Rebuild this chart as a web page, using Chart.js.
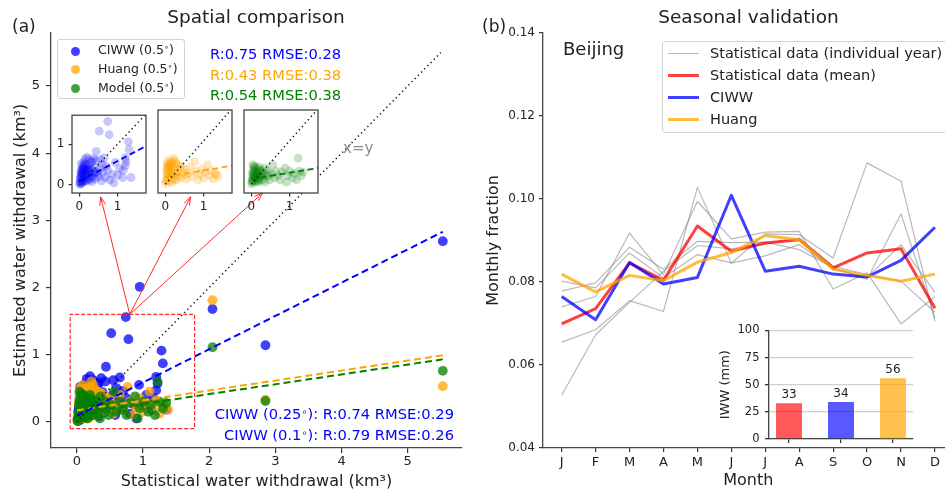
<!DOCTYPE html>
<html>
<head>
<meta charset="utf-8">
<script src="https://cdn.jsdelivr.net/npm/chart.js@4.4.1/dist/chart.umd.min.js"></script>
<style>
  html, body { margin: 0; padding: 0; background: #fff; overflow: hidden; width: 945px; height: 490px; }
  canvas { position: absolute; }
  .t { position: absolute; white-space: nowrap; line-height: 1; font-family: "DejaVu Sans", sans-serif; color: #222; }
  .t sup { font-size: 0.65em; vertical-align: 0.45em; line-height: 0; }
  .leg { position: absolute; background: rgba(255,255,255,0.85); border: 1px solid #d3d3d3; border-radius: 3px; box-sizing: border-box; }
  .dot { position: absolute; width: 9px; height: 9px; border-radius: 50%; }
  .ln { position: absolute; width: 31px; }
</style>
</head>
<body>
<canvas id="cA" width="472" height="490" style="left:0;top:0"></canvas>
<canvas id="in1" width="100" height="112" style="left:52px;top:104px"></canvas>
<canvas id="in2" width="100" height="112" style="left:140px;top:104px"></canvas>
<canvas id="in3" width="100" height="112" style="left:226px;top:104px"></canvas>
<canvas id="cB" width="480" height="490" style="left:480px;top:0"></canvas>
<canvas id="cC" width="210" height="135" style="left:710px;top:318px"></canvas>

<div class="leg" style="left:57px;top:39px;width:128px;height:60px">
  <div class="dot" style="left:13px;top:7px;background:rgba(0,0,255,0.75)"></div>
  <div class="dot" style="left:13px;top:25px;background:rgba(255,165,0,0.75)"></div>
  <div class="dot" style="left:13px;top:44px;background:rgba(0,128,0,0.75)"></div>
</div>
<div class="leg" style="left:662px;top:41px;width:300px;height:92px">
  <div class="ln" style="left:5px;top:11px;height:1.2px;background:rgba(128,128,128,0.55)"></div>
  <div class="ln" style="left:5px;top:32px;height:3px;background:rgba(255,0,0,0.75)"></div>
  <div class="ln" style="left:5px;top:54px;height:3px;background:rgba(0,0,255,0.75)"></div>
  <div class="ln" style="left:5px;top:76px;height:3px;background:rgba(255,165,0,0.75)"></div>
</div>

<script>
// ---- panel (a): spatial comparison, km3 ----
const ciwwX = [0.02,0.03,0.05,0.04,0.06,0.08,0.09,0.10,0.07,0.11, 0.12,0.13,0.15,0.17,0.19,0.21,0.23,0.26,0.28,0.31,
  0.33,0.36,0.39,0.42,0.45,0.50,0.54,0.58,0.62,0.68, 0.74,0.80,0.86,0.90,1.00,1.05,1.13,1.15,1.20,1.35,
  0.05,0.12,0.15,0.25,0.37,0.55,0.65,0.94,1.20,1.22, 0.44,0.52,0.78,0.74,1.28,1.30,0.95,2.05,2.85,5.53,
  0.01,0.02,0.04,0.06,0.08,0.10,0.14,0.18,0.20,0.24, 0.27,0.30,0.35,0.40,0.48,0.60,0.70,0.33,0.43,0.20,
  0.03,0.05,0.07,0.09,0.11,0.13,0.16,0.19,0.22,0.25, 0.29,0.32,0.16,0.09,0.04];
const ciwwY = [0.01,0.06,0.03,0.12,0.18,0.06,0.24,0.14,0.32,0.38, 0.08,0.45,0.28,0.18,0.40,0.10,0.30,0.48,0.20,0.36,
  0.08,0.26,0.44,0.14,0.32,0.20,0.40,0.10,0.30,0.18, 0.36,0.12,0.26,0.05,0.24,0.40,0.18,0.36,0.47,0.18,
  0.52,0.56,0.64,0.62,0.65,0.62,0.66,0.55,0.67,0.57, 0.82,1.32,1.23,1.56,1.06,0.87,2.01,1.68,1.14,2.69,
  0.04,0.15,0.22,0.28,0.35,0.42,0.50,0.30,0.22,0.38, 0.12,0.30,0.18,0.30,0.28,0.50,0.46,0.58,0.60,0.68,
  0.20,0.30,0.40,0.10,0.28,0.20,0.10,0.50,0.35,0.15, 0.40,0.55,0.38,0.48,0.35];
const huangX = [0.01,0.03,0.05,0.04,0.06,0.08,0.05,0.10,0.12,0.14, 0.16,0.18,0.20,0.22,0.24,0.26,0.28,0.30,0.32,0.35,
  0.38,0.40,0.45,0.50,0.55,0.60,0.65,0.70,0.77,0.80, 0.85,0.90,0.95,1.00,1.05,1.10,1.15,1.20,1.25,1.30,
  1.33,1.38,0.02,0.07,0.11,0.15,0.19,0.09,0.13,0.25, 2.05,2.85,5.53,
  0.03,0.06,0.09,0.12,0.15,0.18,0.21,0.24,0.04,0.08, 0.17,0.27,0.33,0.42,0.52];
const huangY = [0.02,0.08,0.15,0.25,0.35,0.45,0.50,0.05,0.20,0.30, 0.42,0.12,0.52,0.60,0.25,0.38,0.48,0.10,0.30,0.20,
  0.42,0.15,0.28,0.35,0.12,0.25,0.40,0.18,0.52,0.30, 0.10,0.22,0.35,0.15,0.28,0.45,0.20,0.32,0.12,0.25,
  0.23,0.18,0.10,0.20,0.30,0.15,0.25,0.40,0.48,0.55, 1.81,0.33,0.53,
  0.30,0.40,0.55,0.45,0.50,0.35,0.42,0.10,0.40,0.25, 0.05,0.20,0.45,0.38,0.22];
const modelX = [0.01,0.02,0.03,0.05,0.04,0.06,0.07,0.09,0.10,0.12, 0.14,0.16,0.18,0.20,0.22,0.25,0.28,0.30,0.33,0.36,
  0.40,0.44,0.48,0.52,0.56,0.60,0.65,0.70,0.75,0.80, 0.88,0.92,0.95,1.00,1.08,1.12,1.18,1.22,1.25,1.30,
  1.35,0.02,0.04,0.08,0.11,0.13,0.17,0.06,0.24, 2.05,2.85,5.53,
  0.03,0.05,0.08,0.10,0.12,0.15,0.19,0.23,0.27,0.31, 0.04,0.14,0.21,0.35,0.45];
const modelY = [0.01,0.05,0.12,0.20,0.30,0.38,0.42,0.08,0.25,0.15, 0.35,0.05,0.28,0.40,0.18,0.10,0.32,0.22,0.12,0.38,
  0.20,0.30,0.10,0.25,0.45,0.15,0.30,0.20,0.10,0.28, 0.38,0.05,0.20,0.30,0.15,0.25,0.10,0.60,0.30,0.20,
  0.28,0.08,0.16,0.18,0.06,0.30,0.12,0.24,0.20, 1.11,0.31,0.76,
  0.25,0.10,0.30,0.40,0.22,0.15,0.08,0.30,0.18,0.28, 0.45,0.25,0.35,0.05,0.20];
const fitX = [0, 5.53];
const ciwwFit = [0.09, 2.83];
const huangFit = [0.17, 0.99];
const modelFit = [0.12, 0.93];
const oneToOne = [0, 5.5];
const zoomBoxX = [-0.1, 1.78, 1.78, -0.1, -0.1];
const zoomBoxY = [-0.1, -0.1, 1.6, 1.6, -0.1];
const arrowFrom = [0.8, 1.6];
const arrowToX = [0.36, 1.72, 2.81];
const arrowToY = [3.35, 3.35, 3.41];
const ticksA = [0, 1, 2, 3, 4, 5];
const ticksInset = [0, 1];

// ---- panel (b): seasonal validation, Beijing ----
const months = ['J','F','M','A','M','J','J','A','S','O','N','D'];
const yearA = [0.0527,0.0673,0.0751,0.0826,0.0888,0.0880,0.0892,0.0906,0.0838,0.0818,0.0802,0.0727];
const yearB = [0.0655,0.0685,0.0755,0.0729,0.1028,0.0845,0.0916,0.0914,0.0858,0.1087,0.1043,0.0705];
const yearC = [0.0740,0.0765,0.0918,0.0818,0.0994,0.0904,0.0920,0.0922,0.0783,0.0822,0.0699,0.0765];
const yearD = [0.0778,0.0798,0.0884,0.0831,0.0898,0.0895,0.0896,0.0878,0.0835,0.0806,0.0964,0.0713];
const yearE = [0.0802,0.0786,0.0870,0.0810,0.0866,0.0846,0.0863,0.0890,0.0831,0.0811,0.0890,0.0775];
const meanFrac  = [0.0699,0.0736,0.0846,0.0804,0.0935,0.0874,0.0894,0.0902,0.0834,0.0870,0.0880,0.0737];
const ciwwFrac  = [0.0765,0.0709,0.0847,0.0795,0.0811,0.1009,0.0826,0.0838,0.0819,0.0812,0.0852,0.0932];
const huangFrac = [0.0819,0.0776,0.0816,0.0803,0.0848,0.0871,0.0912,0.0902,0.0831,0.0816,0.0802,0.0819];
const ticksFrac = [0.04, 0.06, 0.08, 0.10, 0.12, 0.14];
const iwwValues = [33, 34, 56];
const iwwColors = ['rgba(255,0,0,0.65)', 'rgba(0,0,255,0.65)', 'rgba(255,165,0,0.7)'];
const ticksIww = [0, 25, 50, 75, 100];

Chart.defaults.font.family = '"DejaVu Sans", sans-serif';
Chart.defaults.color = '#222';

const pts = (xs, ys) => xs.map((x, i) => ({ x: x, y: ys[i] }));

function axis(o) {
  return {
    type: 'linear', min: o.min, max: o.max, offset: false,
    afterBuildTicks: s => { s.ticks = o.at.map(v => ({ value: v })); },
    afterFit: s => { if (s.isHorizontal()) s.height = o.size; else s.width = o.size; },
    grid: { display: o.marks !== false, drawOnChartArea: !!o.gridColor, color: o.gridColor || '#333',
            tickColor: '#333', lineWidth: o.gridColor ? 1.3 : 1.2, drawTicks: true, tickLength: o.tick || 5, offset: false },
    border: { display: o.border !== false, color: '#444', width: 1.3 },
    ticks: { display: o.labels !== false, padding: o.pad || 3, font: { size: o.font || 13 }, color: '#222',
             maxRotation: 0, autoSkip: false, callback: o.fmt || (v => String(v)) },
    title: o.title ? { display: true, text: o.title, color: '#222', font: { size: o.tsize || 16, lineHeight: 1 },
                       padding: o.tpad || 0 } : { display: false }
  };
}

const base = { responsive: false, animation: false, events: [],
  plugins: { legend: { display: false }, tooltip: { enabled: false } } };

const arrows = {
  id: 'arrows',
  afterDatasetsDraw(chart) {
    const ctx = chart.ctx, sx = chart.scales.x, sy = chart.scales.y;
    const x0 = sx.getPixelForValue(arrowFrom[0]), y0 = sy.getPixelForValue(arrowFrom[1]);
    ctx.save();
    ctx.strokeStyle = '#ff2a2a';
    ctx.lineWidth = 1;
    arrowToX.forEach((tx, i) => {
      const x1 = sx.getPixelForValue(tx), y1 = sy.getPixelForValue(arrowToY[i]);
      const a = Math.atan2(y1 - y0, x1 - x0);
      ctx.beginPath();
      ctx.moveTo(x0, y0); ctx.lineTo(x1, y1);
      ctx.moveTo(x1 - 9 * Math.cos(a - 0.33), y1 - 9 * Math.sin(a - 0.33));
      ctx.lineTo(x1, y1);
      ctx.lineTo(x1 - 9 * Math.cos(a + 0.33), y1 - 9 * Math.sin(a + 0.33));
      ctx.stroke();
    });
    ctx.restore();
  }
};

const whiteArea = {
  id: 'whiteArea',
  beforeDraw(c) {
    const a = c.chartArea;
    c.ctx.save(); c.ctx.fillStyle = '#fff'; c.ctx.fillRect(a.left, a.top, a.width, a.height); c.ctx.restore();
  }
};
const frame = {
  id: 'frame',
  afterDraw(c) {
    const a = c.chartArea;
    c.ctx.save(); c.ctx.strokeStyle = '#444'; c.ctx.lineWidth = 1.3;
    c.ctx.strokeRect(a.left, a.top, a.width, a.height); c.ctx.restore();
  }
};

function lineDs(xs, ys, color, dash, width, order) {
  return { data: pts(xs, ys), showLine: true, borderColor: color, borderWidth: width, borderDash: dash,
           pointRadius: 0, order: order };
}
function dotDs(xs, ys, color, r, order) {
  return { data: pts(xs, ys), pointRadius: r, pointBackgroundColor: color, pointBorderColor: color,
           pointBorderWidth: 0, order: order };
}

// main scatter (a)
new Chart(document.getElementById('cA'), {
  type: 'scatter',
  data: { datasets: [
    lineDs(fitX, ciwwFit, 'blue', [7, 4], 2, 1),
    lineDs(fitX, huangFit, 'orange', [7, 4], 2, 1),
    lineDs(fitX, modelFit, 'green', [7, 4], 2, 1),
    lineDs(oneToOne, oneToOne, '#111', [1.3, 3.2], 1.5, 1),
    lineDs(zoomBoxX, zoomBoxY, '#ff2a2a', [4, 2], 1.2, 1),
    dotDs(modelX, modelY, 'rgba(0,128,0,0.75)', 4.9, 2),
    dotDs(huangX, huangY, 'rgba(255,165,0,0.75)', 4.9, 3),
    dotDs(ciwwX, ciwwY, 'rgba(0,0,255,0.75)', 4.9, 4)
  ]},
  options: Object.assign({}, base, {
    layout: { padding: { left: 0, top: 33, right: 10, bottom: 0 } },
    scales: {
      x: axis({ min: -0.39, max: 5.82, at: ticksA, size: 42, pad: 1, title: 'Statistical water withdrawal (km³)', tpad: { top: 0, bottom: 0 } }),
      y: axis({ min: -0.39, max: 5.79, at: ticksA, size: 51, pad: 6, title: 'Estimated water withdrawal (km³)', tpad: { top: 13, bottom: 0 } })
    }
  }),
  plugins: [arrows]
});

// zoomed insets
function inset(id, xs, ys, fit, dotColor, fitColor, showY, yW, padR) {
  new Chart(document.getElementById(id), {
    type: 'scatter',
    data: { datasets: [
      lineDs(oneToOne, oneToOne, '#111', [1.3, 3.2], 1.5, 1),
      lineDs(fitX, fit, fitColor, [6, 3.5], 1.8, 1),
      dotDs(xs, ys, dotColor, 4.4, 2)
    ]},
    options: Object.assign({}, base, {
      layout: { padding: { left: 0, top: 6, right: padR, bottom: 0 } },
      scales: {
        x: axis({ min: -0.19, max: 1.74, at: ticksInset, size: 23, tick: 3.5, pad: 3, font: 12, border: false }),
        y: axis({ min: -0.2, max: 1.71, at: ticksInset, size: yW, tick: 3.5, pad: 4, font: 12, border: false,
                  labels: showY, marks: showY })
      }
    }),
    plugins: [whiteArea, frame]
  });
}
inset('in1', ciwwX, ciwwY, ciwwFit, 'rgba(0,0,255,0.22)', 'blue', true, 20, 6);
inset('in2', huangX, huangY, huangFit, 'rgba(255,165,0,0.25)', 'orange', false, 18, 8);
inset('in3', modelX, modelY, modelFit, 'rgba(0,128,0,0.22)', 'green', false, 18, 8);

// seasonal lines (b)
const idx = months.map((m, i) => i);
function fracDs(vals, color, width, order) {
  return { data: pts(idx, vals), borderColor: color, borderWidth: width, pointRadius: 0,
           borderJoinStyle: 'round', fill: false, tension: 0, order: order };
}
const grey = 'rgba(128,128,128,0.55)';
new Chart(document.getElementById('cB'), {
  type: 'line',
  data: { datasets: [
    fracDs(huangFrac, 'rgba(255,165,0,0.75)', 3, 1),
    fracDs(ciwwFrac, 'rgba(0,0,255,0.75)', 3, 2),
    fracDs(meanFrac, 'rgba(255,0,0,0.75)', 3, 3),
    fracDs(yearA, grey, 1.2, 4),
    fracDs(yearB, grey, 1.2, 4),
    fracDs(yearC, grey, 1.2, 4),
    fracDs(yearD, grey, 1.2, 4),
    fracDs(yearE, grey, 1.2, 4)
  ]},
  options: Object.assign({}, base, {
    layout: { padding: { left: 0, top: 33, right: 6.4, bottom: 0 } },
    scales: {
      x: axis({ min: -0.55, max: 11.55, at: idx, size: 42, tick: 4, pad: 3, font: 13,
                fmt: v => months[v], title: 'Month', tpad: { top: 0, bottom: 1.5 } }),
      y: axis({ min: 0.04, max: 0.14, at: ticksFrac, size: 63, tick: 4, pad: 4, font: 12,
                fmt: v => v.toFixed(2), title: 'Monthly fraction', tpad: { top: 5.8, bottom: 0 } })
    }
  })
});

// IWW bar inset
const barLabels = {
  id: 'barLabels',
  afterDatasetsDraw(c) {
    const ctx = c.ctx, meta = c.getDatasetMeta(0);
    ctx.save();
    ctx.font = '12px "DejaVu Sans"'; ctx.fillStyle = '#222';
    ctx.textAlign = 'center'; ctx.textBaseline = 'alphabetic';
    meta.data.forEach((b, i) => ctx.fillText(String(iwwValues[i]), b.x, b.y - 5));
    ctx.restore();
  }
};
new Chart(document.getElementById('cC'), {
  type: 'bar',
  data: { datasets: [{ data: pts([0, 1, 2], iwwValues), backgroundColor: iwwColors, borderWidth: 0,
                       categoryPercentage: 1, barPercentage: 0.5 }] },
  options: Object.assign({}, base, {
    layout: { padding: { left: 0, top: 10, right: 7, bottom: 0 } },
    scales: {
      x: axis({ min: -0.385, max: 2.385, at: [0, 1, 2], size: 14, tick: 4, labels: false }),
      y: axis({ min: 0, max: 100, at: ticksIww, size: 59, tick: 4, pad: 5.5, font: 11.5, gridColor: '#cfcfcf',
                title: 'IWW (mm)', tsize: 13, tpad: { top: 9, bottom: 0 } })
    }
  }),
  plugins: [whiteArea, barLabels]
});

// free text
function txt(s, x, baseY, size, color, align) {
  const d = document.createElement('div');
  d.className = 't';
  d.innerHTML = s;
  d.style.fontSize = size + 'px';
  if (color) d.style.color = color;
  d.style.top = (baseY - 0.846 * size) + 'px';
  if (align === 'right') d.style.right = (945 - x) + 'px';
  else if (align === 'center') { d.style.left = x + 'px'; d.style.transform = 'translateX(-50%)'; }
  else d.style.left = x + 'px';
  document.body.appendChild(d);
}
txt('(a)', 12, 32.5, 17);
txt('Spatial comparison', 256, 24, 18.5, null, 'center');
txt('R:0.75 RMSE:0.28', 210, 59.3, 14.7, '#0000ff');
txt('R:0.43 RMSE:0.38', 210, 80, 14.7, '#ffa500');
txt('R:0.54 RMSE:0.38', 210, 100, 14.7, '#008000');
txt('x=y', 343, 154, 15, '#8c8c8c');
txt('CIWW (0.25<sup>∘</sup>): R:0.74 RMSE:0.29', 454, 419.3, 14.7, '#0000ff', 'right');
txt('CIWW (0.1<sup>∘</sup>): R:0.79 RMSE:0.26', 454, 440, 14.7, '#0000ff', 'right');
txt('CIWW (0.5<sup>∘</sup>)', 98, 55, 12.5);
txt('Huang (0.5<sup>∘</sup>)', 98, 73.3, 12.5);
txt('Model (0.5<sup>∘</sup>)', 98, 92.5, 12.5);
txt('(b)', 482, 32.5, 17);
txt('Seasonal validation', 748.5, 24, 18.5, null, 'center');
txt('Beijing', 563, 55, 18);
txt('Statistical data (individual year)', 710, 58.3, 14.5);
txt('Statistical data (mean)', 710, 80, 14.5);
txt('CIWW', 710, 102.5, 14.5);
txt('Huang', 710, 124, 14.5);
</script>
</body>
</html>
